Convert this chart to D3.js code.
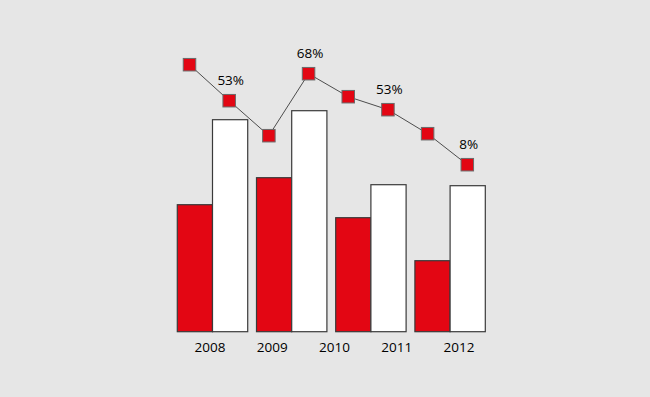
<!DOCTYPE html>
<html><head><meta charset="utf-8">
<script src="https://cdn.jsdelivr.net/npm/d3@7"></script>
<style>html,body{margin:0;padding:0;background:#e6e6e6;}svg{display:block;}</style>
</head><body>
<svg id="c" width="650" height="397"></svg>
<script>
const groups = ["g1","g2","g3","g4"];
const redValues = [127, 154, 114, 71];
const whiteValues = [212, 221, 147, 146];
const yearLabels = ["2008","2009","2010","2011","2012"];
const lineValues = [267, 231, 196, 258, 235, 222, 198, 167];
const lineLabels = ["", "53%", "", "68%", "", "53%", "", "8%"];

const svg = d3.select("#c");
const bottom = 331.7;
const y = d3.scaleLinear().domain([0, 250]).range([bottom, bottom - 250]);

const x0 = d3.scaleBand().domain(groups).range([177.3, 485.3]).paddingInner(0.111).paddingOuter(0);
const x1 = d3.scaleBand().domain(["red","white"]).range([0, x0.bandwidth()]);

const data = groups.map((g,i)=>({g, vals:[{k:"red",v:redValues[i]},{k:"white",v:whiteValues[i]}]}));

const gg = svg.selectAll("g.grp").data(data).enter().append("g")
  .attr("transform", d=>`translate(${x0(d.g)},0)`);
gg.selectAll("rect").data(d=>d.vals).enter().append("rect")
  .attr("x", d=>x1(d.k))
  .attr("y", d=>y(d.v))
  .attr("width", x1.bandwidth())
  .attr("height", d=>bottom - y(d.v))
  .attr("fill", d=>d.k==="red" ? "#e30613" : "#ffffff")
  .attr("stroke", "#3a3a3a")
  .attr("stroke-width", 1.2);

// year labels
const xl = d3.scalePoint().domain(yearLabels).range([210, 459]);
svg.selectAll("text.year").data(yearLabels).enter().append("text")
  .attr("x", d=>xl(d)).attr("y", 351.5)
  .attr("text-anchor","middle")
  .attr("font-family","'Open Sans', 'DejaVu Sans', sans-serif")
  .attr("font-size", 13.5)
  .attr("font-weight", 500)
  .attr("fill","#000")
  .text(d=>d);

// line
const xp = d3.scalePoint().domain(d3.range(lineValues.length)).range([189.5, 467.3]);
const line = d3.line().x((d,i)=>xp(i)).y(d=>y(d));
svg.append("path").datum(lineValues)
  .attr("d", line).attr("fill","none")
  .attr("stroke","#4d4d4d").attr("stroke-width",1);

const s = 12.5;
svg.selectAll("rect.mk").data(lineValues).enter().append("rect")
  .attr("class","mk")
  .attr("x",(d,i)=>xp(i)-s/2).attr("y",d=>y(d)-s/2)
  .attr("width",s).attr("height",s)
  .attr("fill","#e30613").attr("stroke","#6b6b6b").attr("stroke-width",1);

svg.selectAll("text.pl").data(lineValues).enter().append("text")
  .attr("x",(d,i)=>xp(i)+1.5).attr("y",d=>y(d)-16)
  .attr("text-anchor","middle")
  .attr("font-family","'Open Sans', 'DejaVu Sans', sans-serif")
  .attr("font-size", 13.5)
  .attr("font-weight", 500)
  .attr("fill","#000")
  .text((d,i)=>lineLabels[i]);
</script>
</body></html>
